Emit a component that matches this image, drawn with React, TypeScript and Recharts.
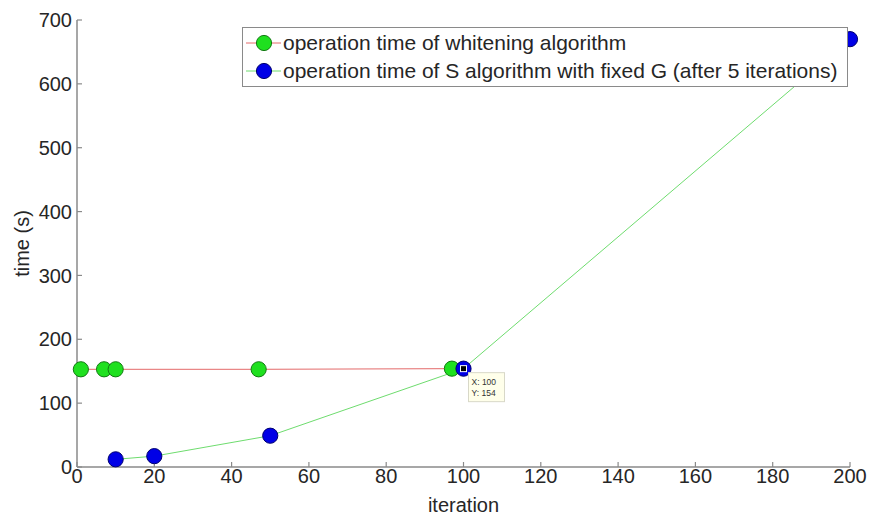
import React from "react";
import { LineChart, Line, XAxis, YAxis, Legend } from "recharts";

const whiteningIter = [1, 7, 10, 47, 97];
const whiteningTime = [153, 153, 153, 153, 154];
const sIter = [10, 20, 50, 100, 200];
const sTime = [12, 17, 49, 154, 670];
const xTicks = [0, 20, 40, 60, 80, 100, 120, 140, 160, 180, 200];
const yTicks = [0, 100, 200, 300, 400, 500, 600, 700];
const seriesNames = [
  "operation time of whitening algorithm",
  "operation time of S algorithm with fixed G (after 5 iterations)",
];
const tipX = 100;
const tipY = 154;

const whiteningData = whiteningIter.map((x, i) => ({ x, y: whiteningTime[i] }));
const sData = sIter.map((x, i) => ({ x, y: sTime[i] }));

const FONT = '"Liberation Sans", Arial, sans-serif';
const AXIS = "#8a8a8a";
const TEXT = "#262626";
const RED_LINE = "#e46a6a";
const GREEN_LINE = "#6edc6e";
const GREEN_FILL = "#1fe01f";
const GREEN_EDGE = "#127a12";
const BLUE_FILL = "#0000e6";
const BLUE_EDGE = "#00006e";

const lineColors = [RED_LINE, GREEN_LINE];
const markerFills = [GREEN_FILL, BLUE_FILL];
const markerEdges = [GREEN_EDGE, BLUE_EDGE];

const LegendBox = () => (
  <div
    style={{
      width: 606,
      height: 60,
      boxSizing: "border-box",
      border: `1px solid ${AXIS}`,
      background: "#fff",
      fontFamily: FONT,
      fontSize: 21,
      color: TEXT,
      paddingTop: 1,
    }}
  >
    {seriesNames.map((name, i) => (
      <div key={name} style={{ height: 28, display: "flex", alignItems: "center", whiteSpace: "nowrap" }}>
        <svg width={40} height={28} style={{ flex: "none" }}>
          <line x1={3} x2={38} y1={14} y2={14} stroke={lineColors[i]} strokeWidth={1} />
          <circle cx={21} cy={14} r={7.6} fill={markerFills[i]} stroke={markerEdges[i]} strokeWidth={1} />
        </svg>
        <span>{name}</span>
      </div>
    ))}
  </div>
);

const makeDot = (fill: string, edge: string, withTip: boolean) => (props: any) => {
  const { cx, cy, payload, index } = props;
  if (cx == null || cy == null) return <g key={`d-${index}`} />;
  const isTip = withTip && payload && payload.x === tipX && payload.y === tipY;
  return (
    <g key={`d-${index}`}>
      <circle cx={cx} cy={cy} r={7.6} fill={fill} stroke={edge} strokeWidth={1} />
      {isTip && (
        <g>
          <rect x={cx - 3} y={cy - 3} width={6} height={6} fill="#000" stroke="#fff" strokeWidth={1} />
          <rect x={cx + 5} y={cy + 4} width={36} height={29} fill="#ffffea" stroke="#d8d8c8" strokeWidth={1} />
          <text x={cx + 8} y={cy + 16} fontSize={8.5} fontFamily={FONT} fill="#333">{`X: ${tipX}`}</text>
          <text x={cx + 8} y={cy + 27} fontSize={8.5} fontFamily={FONT} fill="#333">{`Y: ${tipY}`}</text>
        </g>
      )}
    </g>
  );
};

const YLabel = (props: any) => {
  const vb = props.viewBox || {};
  const cy = (vb.y ?? 20) + (vb.height ?? 447) / 2;
  const cx = 22;
  return (
    <text
      x={cx}
      y={cy}
      textAnchor="middle"
      dy="0.35em"
      transform={`rotate(-90, ${cx}, ${cy})`}
      fontSize={20}
      fontFamily={FONT}
      fill={TEXT}
    >
      time (s)
    </text>
  );
};

export default function App() {
  const tickStyle = { fontSize: 20, fontFamily: FONT, fill: TEXT };
  return (
    <div style={{ position: "absolute", left: 0, top: 0, width: 871, height: 516, background: "#fff" }}>
      <LineChart width={871} height={516} margin={{ top: 20, right: 21, left: 0, bottom: 0 }}>
        <XAxis
          xAxisId="b"
          dataKey="x"
          type="number"
          domain={[0, 200]}
          ticks={xTicks}
          height={49}
          tickSize={-5}
          tickMargin={7}
          tick={tickStyle}
          axisLine={{ stroke: AXIS, strokeWidth: 1.5 }}
          tickLine={{ stroke: AXIS, strokeWidth: 1.2 }}
          label={{ value: "iteration", position: "insideBottom", offset: 4, fontSize: 20, fontFamily: FONT, fill: TEXT }}
        />
        <XAxis
          xAxisId="t"
          orientation="top"
          dataKey="x"
          type="number"
          domain={[0, 200]}
          ticks={xTicks}
          height={0}
          tickSize={-5}
          tickFormatter={() => ""}
          axisLine={{ stroke: AXIS, strokeWidth: 1.5 }}
          tickLine={{ stroke: AXIS, strokeWidth: 1.2 }}
        />
        <YAxis
          yAxisId="l"
          type="number"
          domain={[0, 700]}
          ticks={yTicks}
          width={77}
          tickSize={-5}
          tickMargin={10}
          tick={tickStyle}
          axisLine={{ stroke: AXIS, strokeWidth: 1.5 }}
          tickLine={{ stroke: AXIS, strokeWidth: 1.2 }}
          label={<YLabel />}
        />
        <YAxis
          yAxisId="r"
          orientation="right"
          type="number"
          domain={[0, 700]}
          ticks={yTicks}
          width={0}
          tickSize={-5}
          tickFormatter={() => ""}
          axisLine={{ stroke: AXIS, strokeWidth: 1.5 }}
          tickLine={{ stroke: AXIS, strokeWidth: 1.2 }}
        />
        <Line
          xAxisId="t"
          yAxisId="r"
          data={sData}
          dataKey="y"
          stroke="none"
          dot={false}
          legendType="none"
          isAnimationActive={false}
        />
        <Line
          xAxisId="b"
          yAxisId="l"
          data={whiteningData}
          dataKey="y"
          name={seriesNames[0]}
          stroke={RED_LINE}
          strokeWidth={1}
          dot={makeDot(GREEN_FILL, GREEN_EDGE, false)}
          isAnimationActive={false}
        />
        <Line
          xAxisId="b"
          yAxisId="l"
          data={sData}
          dataKey="y"
          name={seriesNames[1]}
          stroke={GREEN_LINE}
          strokeWidth={1}
          dot={makeDot(BLUE_FILL, BLUE_EDGE, true)}
          isAnimationActive={false}
        />
        <Legend
          layout="vertical"
          align="center"
          verticalAlign="middle"
          wrapperStyle={{ left: 242, top: 27, width: 606, height: 60 }}
          content={<LegendBox />}
        />
      </LineChart>
    </div>
  );
}
